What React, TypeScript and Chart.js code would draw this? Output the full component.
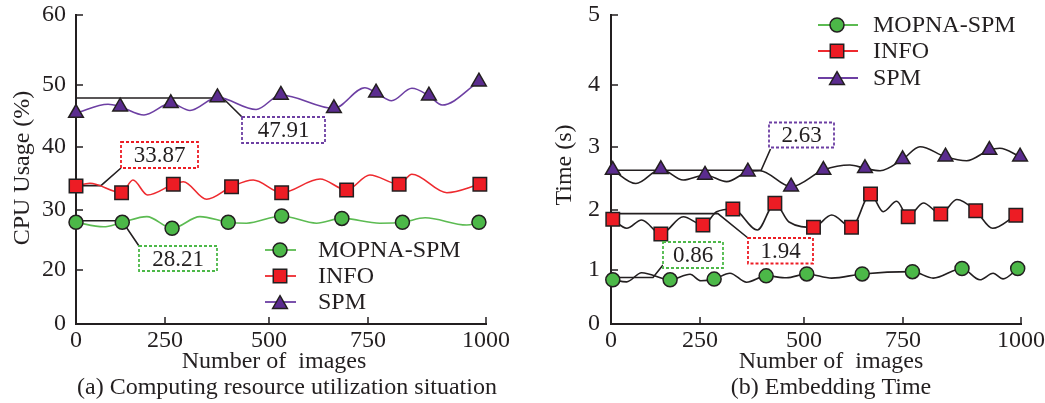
import React, { useEffect, useRef } from 'react';
import { Chart, registerables, LinearScale } from 'chart.js';

Chart.register(...registerables);

// A linear scale whose tick marks sit at uneven pixel steps, as in the reference figure.
class PiecewiseScale extends LinearScale {
  static id = 'piecewise';
  static defaults = {};
  _knots(): [number[], number[]] {
    const o: any = this.options;
    return [o.knotValues, o.knotFractions];
  }
  getPixelForValue(value: number) {
    if (value === null || value === undefined || isNaN(value)) return NaN;
    const [v, f] = this._knots();
    let i = 0;
    while (i < v.length - 2 && value > v[i + 1]) i++;
    const t = (value - v[i]) / (v[i + 1] - v[i]);
    return this.getPixelForDecimal(f[i] + t * (f[i + 1] - f[i]));
  }
  getValueForPixel(pixel: number) {
    const d = this.getDecimalForPixel(pixel);
    const [v, f] = this._knots();
    let i = 0;
    while (i < f.length - 2 && d > f[i + 1]) i++;
    const t = (d - f[i]) / (f[i + 1] - f[i]);
    return v[i] + t * (v[i + 1] - v[i]);
  }
}
Chart.register(PiecewiseScale);

type Pair = [number, number];

// ---------------- data ----------------
const seriesNames = ['MOPNA-SPM', 'INFO', 'SPM'];
const imageTicks = [0, 250, 500, 750, 1000];
const cpuTicks = [0, 20, 30, 40, 50, 60];
const timeTicks = [0, 1, 2, 3, 4, 5];

// (a) CPU usage (%) — marked points and the bends of the curve between them
const cpuMopnaMarks: Pair[] = [[0, 27.95], [130, 27.95], [267, 26.95], [402, 27.95], [532, 29.0], [684, 28.6], [823, 27.95], [985, 27.95]];
const cpuMopnaBends: Pair[] = [[77, 27.2], [199, 28.9], [334, 28.9], [446, 27.8], [620, 27.8], [775, 27.8], [871, 28.7], [959, 27.5]];
const cpuInfoMarks: Pair[] = [[0, 33.81], [128, 32.75], [270, 34.08], [410, 33.7], [532, 32.75], [696, 33.17], [816, 34.08], [987, 34.08]];
const cpuInfoBends: Pair[] = [[39, 34.24], [160, 34.76], [201, 32.38], [294, 34.49], [350, 31.7], [462, 34.76], [629, 34.92], [754, 35.56], [843, 35.67], [917, 32.75]];
const cpuSpmMarks: Pair[] = [[0, 45.48], [124, 46.5], [264, 47.05], [376, 48.0], [530, 48.39], [664, 46.24], [767, 48.76], [879, 48.27], [985, 50.47]];
const cpuSpmBends: Pair[] = [[90, 46.89], [191, 45.16], [310, 45.89], [469, 46.05], [742, 49.55], [800, 47.47], [843, 49.47], [907, 46.77]];
const cpuNoteValues = [28.21, 33.87, 47.91];

// (b) Embedding time (s)
const timeMopnaMarks: Pair[] = [[5, 0.818], [166, 0.818], [284, 0.831], [409, 0.891], [507, 0.927], [647, 0.927], [770, 0.969], [875, 1.025], [993, 1.025]];
const timeMopnaBends: Pair[] = [[44, 0.78], [86, 0.95], [222, 0.92], [252, 0.8], [322, 0.94], [362, 0.773], [458, 0.855], [570, 0.85], [814, 0.85], [913, 0.818], [941, 0.94], [962, 0.836]];
const timeInfoMarks: Pair[] = [[5, 1.845], [140, 1.6], [257, 1.75], [329, 2.016], [430, 2.106], [524, 1.712], [620, 1.712], [668, 2.254], [761, 1.888], [830, 1.933], [904, 1.988], [989, 1.912]];
const timeInfoBends: Pair[] = [[44, 1.695], [86, 1.833], [203, 1.888], [290, 1.97], [388, 1.667], [464, 1.8], [570, 1.917], [700, 1.972], [734, 2.138], [793, 2.112], [864, 2.167], [940, 1.695]];
const timeSpmMarks: Pair[] = [[5, 2.635], [140, 2.646], [262, 2.556], [365, 2.608], [469, 2.37], [549, 2.635], [654, 2.662], [749, 2.805], [840, 2.846], [933, 2.952], [998, 2.846]];
const timeSpmBends: Pair[] = [[70, 2.42], [203, 2.476], [314, 2.45], [394, 2.624], [616, 2.714], [692, 2.624], [786, 3.005], [885, 2.783], [955, 2.98]];
const timeNoteValues = [0.86, 1.94, 2.63];

// ---------------- styles ----------------
const FONT = '"Liberation Serif", "Times New Roman", serif';
const INK = '#231f20';
const FILLS = ['#4cb848', '#ed1c24', '#5b2c8f'];
const COLOR_LINES = ['#5cbb52', '#ee2a2f', '#6d3fa3'];
const DARK_LINES = [INK, INK, INK];
const BOX_COLORS = ['#4cb848', '#ed1c24', '#6d3fa3'];
const SHAPES = ['circle', 'rect', 'triangle'];
const RADII = [7, 9.5, 8.5];
const X_FRACTIONS = [0, 0.2171, 0.4707, 0.7122, 1];
const Y_FRACTIONS = [0, 0.1748, 0.3689, 0.5728, 0.7735, 1];

const toPt = ([x, y]: Pair) => ({ x, y });
const mergeCurve = (marks: Pair[], bends: Pair[]) =>
  [...marks, ...bends].sort((a, b) => a[0] - b[0]).map(toPt);

function drawMarker(ctx: CanvasRenderingContext2D, shape: string, x: number, y: number, r: number, fill: string) {
  ctx.beginPath();
  if (shape === 'circle') {
    ctx.arc(x, y, r, 0, Math.PI * 2);
  } else if (shape === 'rect') {
    const s = r * Math.SQRT1_2;
    ctx.rect(x - s, y - s, 2 * s, 2 * s);
  } else {
    for (let i = 0; i < 3; i++) {
      const a = (i * 2 * Math.PI) / 3;
      const px = x + Math.sin(a) * r;
      const py = y - Math.cos(a) * r;
      if (i === 0) ctx.moveTo(px, py);
      else ctx.lineTo(px, py);
    }
    ctx.closePath();
  }
  ctx.fillStyle = fill;
  ctx.fill();
  ctx.lineWidth = 1.5;
  ctx.strokeStyle = INK;
  ctx.stroke();
}

interface Note { endX: number; corner: Pair; box: [number, number, number, number]; }
interface Panel {
  marks: Pair[][];
  bends: Pair[][];
  lineColors: string[];
  yTicks: number[];
  yMax: number;
  noteValues: number[];
  notes: Note[];
  titles: { text: string; x: number; y: number; rotate?: boolean }[];
  legend: { x0: number; x1: number; mx: number; tx: number; rows: number[] };
  padRight: number;
  yWidth: number;
  yPad: number;
}

function makeOverlay(p: Panel) {
  return {
    id: 'overlay',
    beforeDatasetsDraw(chart: any) {
      const { ctx, chartArea: ca } = chart;
      const xs = chart.scales.x;
      const ys = chart.scales.y;
      ctx.save();
      ctx.strokeStyle = INK;
      ctx.lineWidth = 1.5;
      ctx.beginPath();
      xs.ticks.forEach((t: any, i: number) => {
        if (i === 0) return;
        const px = xs.getPixelForValue(t.value);
        ctx.moveTo(px, ca.bottom);
        ctx.lineTo(px, ca.bottom - 7);
      });
      ys.ticks.forEach((t: any, i: number) => {
        if (i === 0) return;
        const py = ys.getPixelForValue(t.value);
        ctx.moveTo(ca.left, py);
        ctx.lineTo(ca.left + 7, py);
      });
      ctx.stroke();
      ctx.lineWidth = 1.6;
      p.notes.forEach((n, k) => {
        const y = ys.getPixelForValue(p.noteValues[k]);
        ctx.beginPath();
        ctx.moveTo(xs.getPixelForValue(0), y);
        ctx.lineTo(xs.getPixelForValue(n.endX), y);
        ctx.lineTo(n.corner[0], n.corner[1]);
        ctx.stroke();
      });
      ctx.restore();
    },
    afterDraw(chart: any) {
      const ctx: CanvasRenderingContext2D = chart.ctx;
      ctx.save();
      p.notes.forEach((n, k) => {
        const [x0, y0, x1, y1] = n.box;
        ctx.fillStyle = '#ffffff';
        ctx.fillRect(x0, y0, x1 - x0, y1 - y0);
        ctx.setLineDash([3, 2]);
        ctx.lineWidth = 1.8;
        ctx.strokeStyle = BOX_COLORS[k];
        ctx.strokeRect(x0, y0, x1 - x0, y1 - y0);
        ctx.setLineDash([]);
        ctx.fillStyle = INK;
        ctx.font = `23px ${FONT}`;
        ctx.textAlign = 'center';
        ctx.textBaseline = 'middle';
        ctx.fillText(p.noteValues[k].toFixed(2), (x0 + x1) / 2, (y0 + y1) / 2 + 1);
      });
      const L = p.legend;
      seriesNames.forEach((name, k) => {
        const y = L.rows[k];
        ctx.strokeStyle = COLOR_LINES[k];
        ctx.lineWidth = 1.8;
        ctx.beginPath();
        ctx.moveTo(L.x0, y);
        ctx.lineTo(L.x1, y);
        ctx.stroke();
        drawMarker(ctx, SHAPES[k], L.mx, y + (k === 2 ? RADII[k] * 0.25 : 0), RADII[k], FILLS[k]);
        ctx.fillStyle = INK;
        ctx.font = `24px ${FONT}`;
        ctx.textAlign = 'left';
        ctx.textBaseline = 'middle';
        ctx.fillText(name, L.tx, y + 1);
      });
      p.titles.forEach((t) => {
        ctx.save();
        ctx.translate(t.x, t.y);
        if (t.rotate) ctx.rotate(-Math.PI / 2);
        ctx.textAlign = 'center';
        ctx.textBaseline = 'alphabetic';
        ctx.font = `24px ${FONT}`;
        ctx.fillStyle = INK;
        ctx.fillText(t.text, 0, 0);
        ctx.restore();
      });
      ctx.restore();
    },
  };
}

function buildConfig(p: Panel): any {
  const datasets: any[] = [];
  for (let k = 0; k < 3; k++) {
    datasets.push({
      label: seriesNames[k],
      data: p.marks[k].map(toPt),
      showLine: false,
      pointStyle: SHAPES[k],
      pointRadius: RADII[k],
      pointHoverRadius: RADII[k],
      pointBackgroundColor: FILLS[k],
      pointBorderColor: INK,
      pointBorderWidth: 1.5,
      clip: false,
      order: 0,
    });
    datasets.push({
      label: seriesNames[k] + ' curve',
      data: mergeCurve(p.marks[k], p.bends[k]),
      borderColor: p.lineColors[k],
      borderWidth: 1.6,
      pointRadius: 0,
      pointHoverRadius: 0,
      cubicInterpolationMode: 'monotone',
      fill: false,
      clip: false,
      order: 1,
    });
  }
  const tickFont = { family: FONT, size: 24 };
  return {
    type: 'line',
    data: { datasets },
    options: {
      responsive: false,
      animation: false,
      events: [],
      layout: { padding: { left: 0, top: 15, right: p.padRight, bottom: 0 } },
      plugins: { legend: { display: false }, tooltip: { enabled: false } },
      scales: {
        x: {
          type: 'piecewise',
          min: 0,
          max: 1000,
          knotValues: imageTicks,
          knotFractions: X_FRACTIONS,
          afterBuildTicks: (s: any) => {
            s.ticks = imageTicks.map((v) => ({ value: v }));
          },
          afterFit: (s: any) => {
            s.height = 79;
            s.paddingLeft = 0;
            s.paddingRight = 0;
            s.paddingTop = 0;
            s.paddingBottom = 0;
          },
          ticks: { callback: (v: any) => String(v), font: tickFont, color: INK, padding: 2, maxRotation: 0, autoSkip: false },
          grid: { display: false, drawTicks: false },
          border: { display: true, color: INK, width: 2 },
        },
        y: {
          type: 'piecewise',
          min: 0,
          max: p.yMax,
          knotValues: p.yTicks,
          knotFractions: Y_FRACTIONS,
          afterBuildTicks: (s: any) => {
            s.ticks = p.yTicks.map((v) => ({ value: v }));
          },
          afterFit: (s: any) => {
            s.width = p.yWidth;
            s.paddingLeft = 0;
            s.paddingRight = 0;
            s.paddingTop = 0;
            s.paddingBottom = 0;
          },
          ticks: { callback: (v: any) => String(v), font: tickFont, color: INK, padding: p.yPad, autoSkip: false },
          grid: { display: false, drawTicks: false },
          border: { display: true, color: INK, width: 2 },
        },
      },
    },
    plugins: [makeOverlay(p)],
  };
}

const panelA: Panel = {
  marks: [cpuMopnaMarks, cpuInfoMarks, cpuSpmMarks],
  bends: [cpuMopnaBends, cpuInfoBends, cpuSpmBends],
  lineColors: COLOR_LINES,
  yTicks: cpuTicks,
  yMax: 60,
  noteValues: cpuNoteValues,
  notes: [
    { endX: 129, corner: [139, 246], box: [139, 246, 217, 271] },
    { endX: 70, corner: [121, 168], box: [121, 142, 198, 168] },
    { endX: 389, corner: [242, 117], box: [242, 117, 325, 143] },
  ],
  titles: [
    { text: 'CPU Usage (%)', x: 29, y: 168, rotate: true },
    { text: 'Number of  images', x: 274, y: 368 },
    { text: '(a) Computing resource utilization situation', x: 287, y: 394 },
  ],
  legend: { x0: 265, x1: 296, mx: 280, tx: 318, rows: [250, 276, 302] },
  padRight: 44,
  yWidth: 76,
  yPad: 10,
};

const panelB: Panel = {
  marks: [timeMopnaMarks, timeInfoMarks, timeSpmMarks],
  bends: [timeMopnaBends, timeInfoBends, timeSpmBends],
  lineColors: DARK_LINES,
  yTicks: timeTicks,
  yMax: 5,
  noteValues: timeNoteValues,
  notes: [
    { endX: 118, corner: [133, 265], box: [133, 242, 193, 268] },
    { endX: 293, corner: [218, 238], box: [218, 238, 283, 263.5] },
    { endX: 397, corner: [240.5, 149], box: [239, 122.5, 304, 147.5] },
  ],
  titles: [
    { text: 'Time (s)', x: 41, y: 165, rotate: true },
    { text: 'Number of  images', x: 301, y: 368 },
    { text: '(b) Embedding Time', x: 301, y: 394 },
  ],
  legend: { x0: 288, x1: 328, mx: 307, tx: 343, rows: [25, 51, 78] },
  padRight: 24,
  yWidth: 81,
  yPad: 11,
};

export default function App() {
  const refA = useRef<HTMLCanvasElement>(null);
  const refB = useRef<HTMLCanvasElement>(null);
  useEffect(() => {
    const a = new Chart(refA.current as HTMLCanvasElement, buildConfig(panelA));
    const b = new Chart(refB.current as HTMLCanvasElement, buildConfig(panelB));
    return () => {
      a.destroy();
      b.destroy();
    };
  }, []);
  return (
    <div style={{ position: 'absolute', left: 0, top: 0, width: 1045, height: 403, background: '#ffffff' }}>
      <canvas ref={refA} width={530} height={403} style={{ position: 'absolute', left: 0, top: 0 }} />
      <canvas ref={refB} width={515} height={403} style={{ position: 'absolute', left: 530, top: 0 }} />
    </div>
  );
}
